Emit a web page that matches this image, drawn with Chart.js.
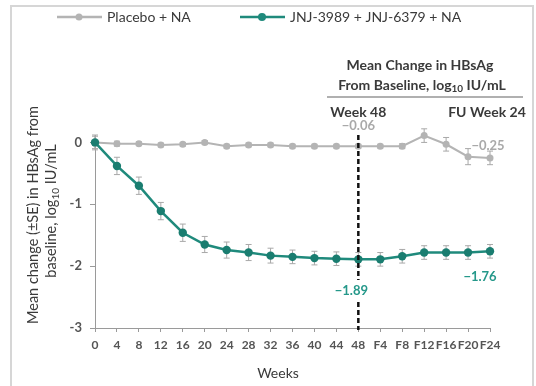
<!DOCTYPE html>
<html><head><meta charset="utf-8">
<script src="https://cdn.jsdelivr.net/npm/chart.js@4"></script>
<style>html,body{margin:0;padding:0;background:#fff;}canvas{display:block;}</style>
</head><body>
<canvas id="c" width="536" height="386"></canvas>
<script>
const weeks = ['0','4','8','12','16','20','24','28','32','36','40','44','48','F4','F8','F12','F16','F20','F24'];
const placeboMean = [0,-0.02,-0.02,-0.04,-0.03,0.00,-0.06,-0.04,-0.04,-0.06,-0.06,-0.06,-0.06,-0.06,-0.06,0.11,-0.03,-0.23,-0.25];
const placeboSE   = [0.1,0.04,0.03,0.03,0.03,0.03,0.03,0.03,0.03,0.03,0.03,0.03,0.03,0.03,0.04,0.11,0.11,0.13,0.11];
const activeMean  = [0,-0.38,-0.70,-1.11,-1.46,-1.65,-1.74,-1.78,-1.83,-1.85,-1.87,-1.88,-1.89,-1.89,-1.84,-1.78,-1.78,-1.78,-1.76];
const activeSE    = [0.12,0.14,0.14,0.14,0.14,0.13,0.13,0.13,0.12,0.11,0.11,0.11,0.11,0.11,0.11,0.11,0.11,0.11,0.11];
const seriesNames = ['Placebo + NA','JNJ-3989 + JNJ-6379 + NA'];
const yTicks = [-3,-2,-1,0];
const callouts = [
  {label:'\u22120.06', idx:12, series:0, dx:0, dy:-20},
  {label:'\u22120.25', idx:18, series:0, dx:-2, dy:-12},
  {label:'\u22121.89', idx:12, series:1, dx:-7, dy:31},
  {label:'\u22121.76', idx:18, series:1, dx:-10, dy:26}
];
const GRAY = '#b4b4b4', TEAL = '#1f8a7c', TEXT = '#3a3a3a';
const FONT = 'Lato, "Liberation Sans", sans-serif';

function drawSeg(ctx, segs, cx, cy, size, weight, color){
  ctx.fillStyle = color; ctx.textBaseline = 'middle';
  let w = 0;
  segs.forEach(s=>{ ctx.font = weight+' '+(s.sub?Math.round(size*0.7):size)+'px '+FONT; s.w = ctx.measureText(s.t).width; w += s.w; });
  let x = cx - w/2;
  ctx.textAlign = 'left';
  segs.forEach(s=>{ ctx.font = weight+' '+(s.sub?Math.round(size*0.7):size)+'px '+FONT; ctx.fillText(s.t, x, cy + (s.sub? size*0.3:0)); x += s.w; });
}

const overlay = {
  id:'overlay',
  beforeDraw(chart){
    const ctx = chart.ctx;
    ctx.save();
    ctx.fillStyle='#fff'; ctx.fillRect(0,0,chart.width,chart.height);
    ctx.strokeStyle='#d6d6d6'; ctx.lineWidth=2;
    ctx.strokeRect(11,6,522,400);
    ctx.restore();
  },
  beforeDatasetsDraw(chart){
    const ctx = chart.ctx, xs = chart.scales.x, ys = chart.scales.y;
    ctx.save();
    ctx.strokeStyle = '#a8a8a8'; ctx.lineWidth = 1;
    [[placeboMean,placeboSE],[activeMean,activeSE]].forEach(([m,se])=>{
      m.forEach((v,i)=>{
        const x = xs.getPixelForValue(i);
        const y1 = ys.getPixelForValue(v+se[i]), y2 = ys.getPixelForValue(v-se[i]);
        ctx.beginPath();
        ctx.moveTo(x,y1); ctx.lineTo(x,y2);
        ctx.moveTo(x-3,y1); ctx.lineTo(x+3,y1);
        ctx.moveTo(x-3,y2); ctx.lineTo(x+3,y2);
        ctx.stroke();
      });
    });
    ctx.restore();
  },
  afterDatasetsDraw(chart){
    const ctx = chart.ctx, xs = chart.scales.x, ys = chart.scales.y;
    ctx.save();
    const xw = xs.getPixelForValue(12);
    ctx.strokeStyle = '#111'; ctx.lineWidth = 2.5; ctx.setLineDash([5,3]);
    ctx.beginPath(); ctx.moveTo(xw,135); ctx.lineTo(xw,280); ctx.moveTo(xw,302); ctx.lineTo(xw,330); ctx.stroke();
    ctx.setLineDash([]);
    callouts.forEach(c=>{
      const m = c.series===0?placeboMean:activeMean;
      const x = xs.getPixelForValue(c.idx)+c.dx, y = ys.getPixelForValue(m[c.idx])+c.dy;
      ctx.font = 'bold 13px '+FONT; ctx.textAlign='center'; ctx.textBaseline='middle';
      ctx.fillStyle = c.series===0?'#a9a9a9':'#25988a';
      ctx.fillText(c.label, x, y);
    });
    drawSeg(ctx,[{t:'Mean Change in HBsAg'}],420,65,14,'bold',TEXT);
    drawSeg(ctx,[{t:'From Baseline, log'},{t:'10',sub:true},{t:' IU/mL'}],422,85,14,'bold',TEXT);
    ctx.strokeStyle='#b0b0b0'; ctx.lineWidth=2;
    ctx.beginPath(); ctx.moveTo(327,97); ctx.lineTo(523,97); ctx.stroke();
    drawSeg(ctx,[{t:'Week 48'}],xw,112,14,'bold',TEXT);
    drawSeg(ctx,[{t:'FU Week 24'}],487,112,14,'bold',TEXT);
    const leg = [{x:57,col:GRAY,r:3.5,ds:0},{x:240,col:TEAL,r:4,ds:1}];
    leg.forEach(l=>{
      ctx.strokeStyle=l.col; ctx.lineWidth=2.5;
      ctx.beginPath(); ctx.moveTo(l.x,17); ctx.lineTo(l.x+45,17); ctx.stroke();
      ctx.fillStyle=l.col; ctx.beginPath(); ctx.arc(l.x+22,17,l.r,0,Math.PI*2); ctx.fill();
      ctx.font='14px '+FONT; ctx.textAlign='left'; ctx.textBaseline='middle'; ctx.fillStyle=TEXT;
      ctx.fillText(seriesNames[l.ds], l.x+50, 17);
    });
    ctx.save();
    ctx.translate(33,215); ctx.rotate(-Math.PI/2);
    drawSeg(ctx,[{t:'Mean change (\u00b1SE) in HBsAg from'}],0,0,14.5,'normal',TEXT);
    ctx.restore();
    ctx.save();
    ctx.translate(51,211); ctx.rotate(-Math.PI/2);
    drawSeg(ctx,[{t:'baseline, log'},{t:'10',sub:true},{t:' IU/mL'}],0,0,14.5,'normal',TEXT);
    ctx.restore();
    drawSeg(ctx,[{t:'Weeks'}],278,373,14,'normal',TEXT);
    ctx.restore();
  }
};

new Chart(document.getElementById('c'), {
  type:'line',
  data:{
    labels: weeks,
    datasets:[
      {label:seriesNames[0], data:placeboMean, borderColor:GRAY, backgroundColor:GRAY, borderWidth:2, pointRadius:3.5, pointBorderWidth:0, pointBackgroundColor:GRAY, order:2, clip:false, tension:0},
      {label:seriesNames[1], data:activeMean, borderColor:TEAL, backgroundColor:TEAL, borderWidth:2.5, pointRadius:4.2, pointBorderWidth:0, pointBackgroundColor:'#1a7d70', order:1, clip:false, tension:0}
    ]
  },
  options:{
    responsive:false, devicePixelRatio:1, animation:false,
    layout:{padding:{top:135,right:46,left:0,bottom:0}},
    plugins:{legend:{display:false}, tooltip:{enabled:false}},
    scales:{
      x:{
        offset:false,
        grid:{display:true, drawOnChartArea:false, drawTicks:true, tickLength:4, color:'#9a9a9a'},
        border:{display:true, color:'#9a9a9a', width:1},
        ticks:{autoSkip:false, maxRotation:0, padding:6, color:'#555', font:{family:FONT, size:12, weight:'bold'}},
        afterFit(s){ s.height = 58; }
      },
      y:{
        min:-3, max:0.12,
        afterBuildTicks(s){ s.ticks = yTicks.map(v=>({value:v})); },
        grid:{display:true, drawOnChartArea:false, drawTicks:true, tickLength:5, color:'#9a9a9a'},
        border:{display:true, color:'#9a9a9a', width:1},
        ticks:{padding:8, color:'#555', font:{family:FONT, size:13, weight:'bold'}},
        afterFit(s){ s.width = 95; }
      }
    }
  },
  plugins:[overlay]
});
</script>
</body></html>
